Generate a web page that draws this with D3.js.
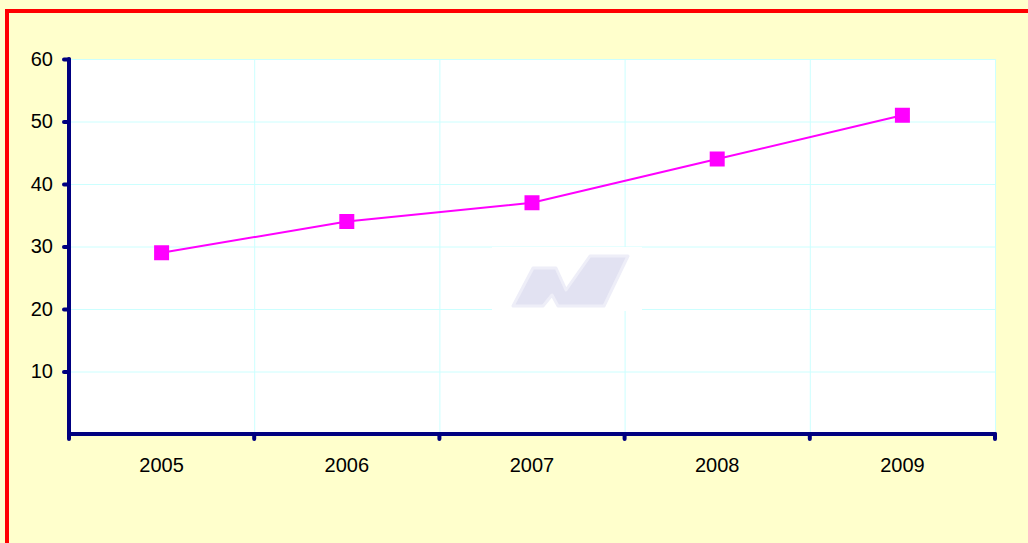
<!DOCTYPE html>
<html>
<head>
<meta charset="utf-8">
<script src="https://cdn.jsdelivr.net/npm/d3@7"></script>
<style>
  body { margin: 0; background: #ffffcc; overflow: hidden; }
  text { font-family: "Liberation Sans", Arial, sans-serif; }
</style>
</head>
<body>
<svg id="chart" width="1028" height="543"></svg>
<script>
// chart data
const years = ['2005', '2006', '2007', '2008', '2009'];
const values = [29, 34, 37, 44, 51];
const yTicks = [10, 20, 30, 40, 50, 60];

const svg = d3.select('#chart');
const W = 1028, H = 543;
const plotLeft = 69, plotRight = 995, plotTop = 59, plotBottom = 434;

// page background + red frame (runs off the right and bottom edge)
svg.append('rect').attr('width', W).attr('height', H).attr('fill', '#ffffcc');
svg.append('path')
    .attr('d', `M7,${H + 10} L7,11 L${W + 10},11`)
    .attr('fill', 'none').attr('stroke', '#ff0000').attr('stroke-width', 4);

const x = d3.scaleBand().domain(years).range([plotLeft, plotRight]);
const y = d3.scaleLinear().domain([0, 60]).range([plotBottom, plotTop]);

// plot area
svg.append('rect')
    .attr('x', plotLeft).attr('y', plotTop)
    .attr('width', plotRight - plotLeft).attr('height', plotBottom - plotTop)
    .attr('fill', '#ffffff');

// grid
const gridColor = '#ccffff';
svg.append('g').selectAll('line').data(yTicks).join('line')
    .attr('x1', plotLeft).attr('x2', plotRight)
    .attr('y1', d => y(d) + 0.5).attr('y2', d => y(d) + 0.5)
    .attr('stroke', gridColor).attr('stroke-width', 1);
svg.append('g').selectAll('line').data(years.slice(1).concat(['end'])).join('line')
    .attr('x1', d => d === 'end' ? plotRight + 0.5 : x(d) + 0.5)
    .attr('x2', d => d === 'end' ? plotRight + 0.5 : x(d) + 0.5)
    .attr('y1', plotTop).attr('y2', plotBottom)
    .attr('stroke', gridColor).attr('stroke-width', 1);

// faint watermark logo in the middle
const wm = svg.append('g');
wm.append('rect').attr('x', 492).attr('y', 247).attr('width', 150).attr('height', 64).attr('fill', '#ffffff');
wm.append('polygon')
    .attr('points', '513,306 533,268 556,268 566,290 590,256 628,256 604,306 558,306 552,295 543,306')
    .attr('fill', '#e2e2f2').attr('stroke', '#eeeef8').attr('stroke-width', 3)
    .attr('stroke-linejoin', 'round');

// axes
const axisColor = '#000080';
const yAxis = svg.append('g')
    .attr('transform', `translate(${plotLeft},0)`)
    .call(d3.axisLeft(y).tickValues(yTicks).tickSize(5).tickPadding(11));
const xAxis = svg.append('g')
    .attr('transform', `translate(0,${plotBottom})`)
    .call(d3.axisBottom(x).tickSize(0).tickPadding(24));

[yAxis, xAxis].forEach(g => {
    g.select('.domain').remove();
    g.selectAll('.tick line').attr('stroke', axisColor).attr('stroke-width', 4).attr('stroke-linecap', 'round');
    g.selectAll('.tick text').attr('fill', '#000').style('font-size', '20px')
        .style('font-family', '"Liberation Sans", Arial, sans-serif');
});

// x tick marks on band boundaries
svg.append('g').selectAll('line').data(years.concat(['end'])).join('line')
    .attr('x1', d => d === 'end' ? plotRight : x(d))
    .attr('x2', d => d === 'end' ? plotRight : x(d))
    .attr('y1', plotBottom).attr('y2', plotBottom + 5)
    .attr('stroke', axisColor).attr('stroke-width', 4).attr('stroke-linecap', 'round');

svg.append('line')
    .attr('x1', plotLeft).attr('x2', plotLeft).attr('y1', plotTop).attr('y2', plotBottom)
    .attr('stroke', axisColor).attr('stroke-width', 4).attr('stroke-linecap', 'round');
svg.append('line')
    .attr('x1', plotLeft).attr('x2', plotRight).attr('y1', plotBottom).attr('y2', plotBottom)
    .attr('stroke', axisColor).attr('stroke-width', 4).attr('stroke-linecap', 'round');

// series
const cx = d => x(d) + x.bandwidth() / 2;
svg.append('path')
    .datum(values)
    .attr('fill', 'none').attr('stroke', '#ff00ff').attr('stroke-width', 2)
    .attr('d', d3.line().x((d, i) => cx(years[i])).y(d => y(d)));

svg.append('g').selectAll('rect').data(values).join('rect')
    .attr('x', (d, i) => cx(years[i]) - 7.5)
    .attr('y', d => y(d) - 7.5)
    .attr('width', 15).attr('height', 15)
    .attr('fill', '#ff00ff');
</script>
</body>
</html>
